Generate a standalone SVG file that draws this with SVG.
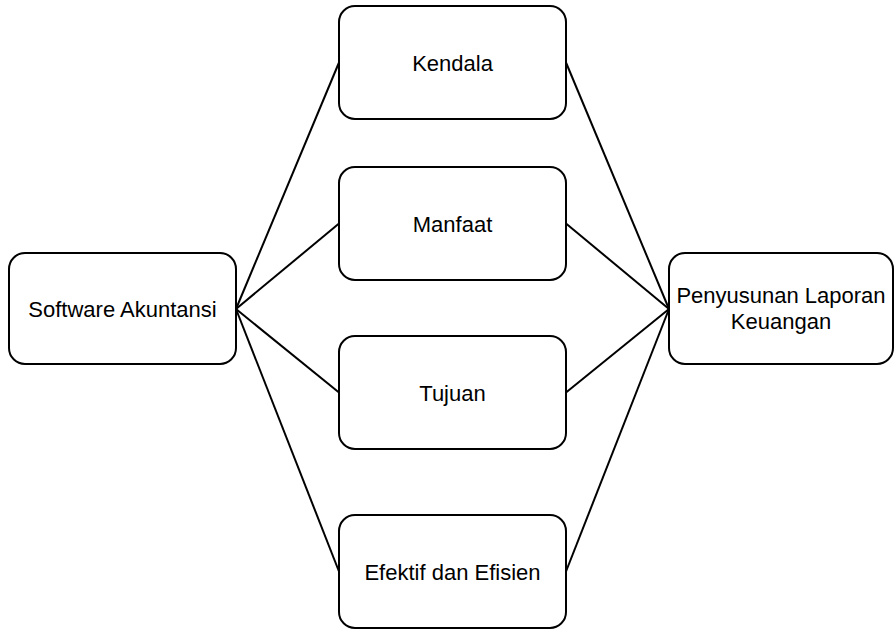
<svg xmlns="http://www.w3.org/2000/svg" width="894" height="631" viewBox="0 0 894 631">
<style>
.box{fill:#fff;stroke:#000;stroke-width:2}
.lbl{font-family:"Liberation Sans",Arial,sans-serif;font-size:22px;fill:#000;text-anchor:middle}
.edge{stroke:#000;stroke-width:2;fill:none}
</style>
<rect width="894" height="631" fill="#fff"/>
<g id="connectors">
<line class="edge" x1="236" y1="309" x2="339" y2="62.5"/>
<line class="edge" x1="236" y1="309" x2="339" y2="223.5"/>
<line class="edge" x1="236" y1="309" x2="339" y2="392.5"/>
<line class="edge" x1="236" y1="309" x2="339" y2="571.5"/>
<line class="edge" x1="566" y1="62.5" x2="669" y2="309"/>
<line class="edge" x1="566" y1="223.5" x2="669" y2="309"/>
<line class="edge" x1="566" y1="392.5" x2="669" y2="309"/>
<line class="edge" x1="566" y1="571.5" x2="669" y2="309"/>
</g>
<g id="software">
<rect class="box" x="9" y="253" width="227" height="111" rx="16"/>
<text class="lbl" x="122.5" y="316.5">Software Akuntansi</text>
</g>
<g id="kendala">
<rect class="box" x="339" y="6" width="227" height="113" rx="16"/>
<text class="lbl" x="452.5" y="70.5">Kendala</text>
</g>
<g id="manfaat">
<rect class="box" x="339" y="167" width="227" height="113" rx="16"/>
<text class="lbl" x="452.5" y="231.5">Manfaat</text>
</g>
<g id="tujuan">
<rect class="box" x="339" y="336" width="227" height="113" rx="16"/>
<text class="lbl" x="452.5" y="400.5">Tujuan</text>
</g>
<g id="efektif">
<rect class="box" x="339" y="515" width="227" height="113" rx="16"/>
<text class="lbl" x="452.5" y="579.5">Efektif dan Efisien</text>
</g>
<g id="penyusunan">
<rect class="box" x="669" y="253" width="224" height="111" rx="16"/>
<text class="lbl" x="781" y="303">Penyusunan Laporan</text>
<text class="lbl" x="781" y="329">Keuangan</text>
</g>
</svg>
